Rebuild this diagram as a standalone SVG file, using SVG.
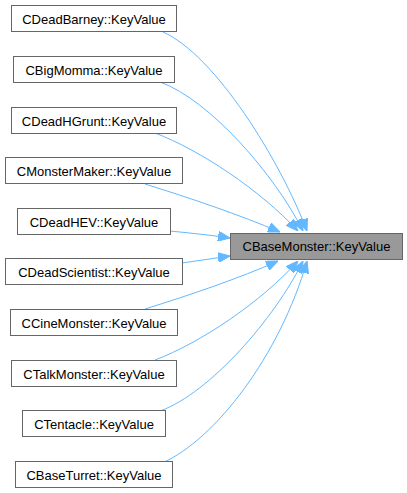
<svg xmlns="http://www.w3.org/2000/svg" width="407" height="493" viewBox="0 0 407 493">
<style>
.node rect{fill:#ffffff;stroke:#666666;stroke-width:1}
.node.main rect{fill:#999999}
.node text{font-family:"Liberation Sans",Arial,sans-serif;font-size:13px;fill:#000000;text-anchor:middle}
.edges path{fill:none;stroke:#63b8ff;stroke-width:1}
</style>
<defs>
<marker id="arr" markerUnits="userSpaceOnUse" viewBox="0 0 12 10" refX="12" refY="5" markerWidth="12" markerHeight="10" orient="auto">
<path d="M0,0 L12,5 L0,10 z" fill="#63b8ff" stroke="#63b8ff"/>
</marker>
</defs>
<g id="edges" class="edges">
<path marker-end="url(#arr)" d="M163,32 C215,55 280,160 307,231"/>
<path marker-end="url(#arr)" d="M160,82 C210,100 275,175 303,231"/>
<path marker-end="url(#arr)" d="M155,133 C200,150 260,190 298,231"/>
<path marker-end="url(#arr)" d="M145,184 C190,198 240,215 280,232"/>
<path marker-end="url(#arr)" d="M170,231 C190,233 210,235 230,238"/>
<path marker-end="url(#arr)" d="M182,263 C198,261 214,258 230,256"/>
<path marker-end="url(#arr)" d="M145,309 C190,295 240,278 278,261"/>
<path marker-end="url(#arr)" d="M155,360 C200,343 260,303 298,261"/>
<path marker-end="url(#arr)" d="M160,411 C210,393 275,318 303,261"/>
<path marker-end="url(#arr)" d="M162,463 C215,440 280,355 307,261"/>
</g>
<g id="n0" class="node main"><rect x="230.5" y="233.5" width="172" height="26"/><text x="316.5" y="251">CBaseMonster::KeyValue</text></g>
<g id="n1" class="node"><rect x="11.5" y="5.5" width="165" height="26"/><text x="94" y="23.5">CDeadBarney::KeyValue</text></g>
<g id="n2" class="node"><rect x="13.5" y="56.5" width="161" height="26"/><text x="94" y="74.5">CBigMomma::KeyValue</text></g>
<g id="n3" class="node"><rect x="11.5" y="107.5" width="165" height="26"/><text x="94" y="125.5">CDeadHGrunt::KeyValue</text></g>
<g id="n4" class="node"><rect x="5.5" y="157.5" width="177" height="26"/><text x="94" y="175.5">CMonsterMaker::KeyValue</text></g>
<g id="n5" class="node"><rect x="17.5" y="208.5" width="153" height="26"/><text x="94" y="226.5">CDeadHEV::KeyValue</text></g>
<g id="n6" class="node"><rect x="5.5" y="258.5" width="177" height="26"/><text x="94" y="276.5">CDeadScientist::KeyValue</text></g>
<g id="n7" class="node"><rect x="10.5" y="309.5" width="167" height="26"/><text x="94" y="327.5">CCineMonster::KeyValue</text></g>
<g id="n8" class="node"><rect x="11.5" y="360.5" width="165" height="26"/><text x="94" y="378.5">CTalkMonster::KeyValue</text></g>
<g id="n9" class="node"><rect x="22.5" y="410.5" width="143" height="26"/><text x="94" y="428.5">CTentacle::KeyValue</text></g>
<g id="n10" class="node"><rect x="15.5" y="461.5" width="157" height="26"/><text x="94" y="479.5">CBaseTurret::KeyValue</text></g>
</svg>
